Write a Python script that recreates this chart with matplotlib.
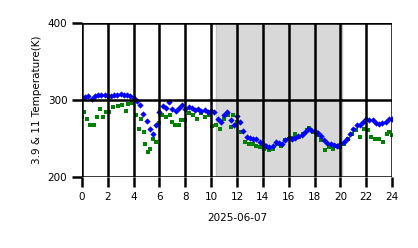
import numpy as np
import matplotlib
matplotlib.use("Agg")
import matplotlib.pyplot as plt

# DATA
blue_hours = np.arange(0, 24.01, 0.25)
blue_temp = [303, 304, 305, 302, 305, 306, 307, 306, 305, 305, 306, 307,
             308, 307, 306, 305, 303, 299, 293, 282, 273, 262, 256, 268,
             285, 292, 290, 297, 288, 286, 290, 293, 288, 291, 290, 287,
             289, 286, 287, 285, 286, 284, 276, 271, 280, 284, 274, 268,
             279, 272, 260, 252, 251, 250, 250, 246, 243, 240, 239, 241,
             245, 244, 243, 248, 251, 250, 251, 253, 255, 259, 262, 261,
             260, 257, 253, 248, 244, 243, 242, 241, 243, 245, 250, 256,
             263, 267, 268, 271, 275, 274, 274, 270, 269, 270, 271, 275, 276]

green_hours = [0.0, 0.15, 0.4, 0.6, 0.9, 1.2, 1.4, 1.6, 1.9, 2.1, 2.4, 2.8,
               3.1, 3.4, 3.6, 3.9, 4.2, 4.4, 4.6, 4.8, 4.9, 5.1, 5.3, 5.5,
               5.7, 6.0, 6.2, 6.5, 6.8, 7.0, 7.2, 7.5, 7.7, 8.0, 8.3, 8.6,
               8.9, 9.2, 9.5, 9.8, 10.1, 10.4, 10.7, 11.0, 11.3, 11.5, 11.7,
               12.0, 12.3, 12.6, 12.9, 13.2, 13.5, 13.8, 14.1, 14.5, 14.8,
               15.1, 15.4, 15.7, 16.0, 16.3, 16.5, 16.8, 17.1, 17.4, 17.6,
               17.9, 18.2, 18.5, 18.8, 19.1, 19.4, 19.7, 20.0, 20.3, 20.6,
               20.9, 21.2, 21.5, 21.8, 22.1, 22.4, 22.7, 23.0, 23.3, 23.6,
               23.8, 24.0]
green_temp = [278, 285, 276, 267, 267, 278, 289, 278, 285, 285, 291, 292,
              293, 286, 295, 296, 280, 263, 276, 259, 243, 233, 236, 249,
              246, 270, 280, 278, 280, 272, 267, 268, 274, 274, 283, 280,
              276, 283, 278, 280, 266, 267, 263, 275, 280, 265, 280,
              272, 259, 246, 243, 243, 240, 239, 237, 235, 237,
              243, 241, 248, 250, 251, 256, 252, 256, 261, 264,
              259, 254, 248, 235, 239, 237, 240, 239, 243, 249,
              256, 261, 252, 263, 261, 252, 250, 249, 246, 256,
              259, 254]

night_start, night_end = 10.4, 20.1

# PLOT
fig = plt.figure(figsize=(4.18, 2.48), dpi=100)
ax = fig.add_axes([0.196, 0.286, 0.742, 0.621])

ax.axvspan(night_start, night_end, facecolor="#d8d8d8", edgecolor="#c4c4c4", lw=1, zorder=0)
ax.plot(green_hours, green_temp, "s", color="green", ms=2.6, mew=0, zorder=2)
ax.plot(blue_hours, blue_temp, "D", color="blue", ms=3.2, mew=0, zorder=2)

ax.set_xlim(0, 24)
ax.set_ylim(200, 400)
ax.set_xticks(range(0, 25, 2))
ax.set_yticks([200, 300, 400])
ax.set_axisbelow(False)
ax.grid(True, color="black", lw=1.8)
for s in ax.spines.values():
    s.set_visible(False)
ax.tick_params(axis="both", length=7, width=1.8, labelsize=7.5, direction="out")
ax.tick_params(axis="x", pad=4)
ax.set_xlabel("2025-06-07", fontsize=7.5, labelpad=8)
ax.set_ylabel("3.9 & 11 Temperature(K)", fontsize=7.5, labelpad=4)

fig.savefig("out.png", dpi=100)
